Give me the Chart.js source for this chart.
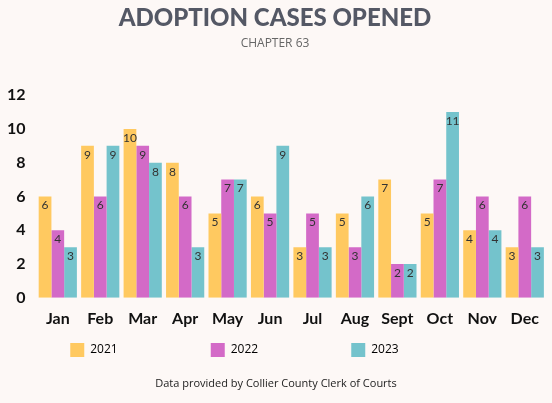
<!DOCTYPE html>
<html><head><meta charset="utf-8">
<script src="https://cdn.jsdelivr.net/npm/chart.js@4/dist/chart.umd.min.js"></script>
<style>html,body{margin:0;padding:0;background:#fdf8f6;}#w{width:552px;height:403px;}</style>
</head><body><div id="w"><canvas id="c" width="552" height="403"></canvas></div>
<script>
const categories=["Jan","Feb","Mar","Apr","May","Jun","Jul","Aug","Sept","Oct","Nov","Dec"];
const s2021=[6,9,10,8,5,6,3,5,7,5,4,3];
const s2022=[4,6,9,6,7,5,5,3,2,7,6,6];
const s2023=[3,9,8,3,7,9,3,6,2,11,4,3];
const yTicks=[0,2,4,6,8,10,12];
const valPlugin={id:'vals',beforeDraw(ch){ch.ctx.letterSpacing='0px';},afterDatasetsDraw(ch){const c=ch.ctx;c.save();c.font='12px Lato, "Open Sans", sans-serif';c.fillStyle='#333';c.textAlign='center';c.textBaseline='top';
ch.data.datasets.forEach((d,i)=>{ch.getDatasetMeta(i).data.forEach((b,j)=>{c.fillText(d.data[j],b.x,b.y+3);});});
c.font='11px "Open Sans", Lato, sans-serif';c.fillStyle='#222';c.fillText('Data provided by Collier County Clerk of Courts',276,378);c.restore();}};
new Chart(document.getElementById('c'),{type:'bar',
data:{labels:categories,datasets:[
{label:'2021',data:s2021,backgroundColor:'#ffc960'},
{label:'2022',data:s2022,backgroundColor:'#d36ac7'},
{label:'2023',data:s2023,backgroundColor:'#74c3cc'}]},
options:{responsive:false,animation:false,layout:{padding:{left:4,right:6,bottom:36}},
datasets:{bar:{categoryPercentage:0.9,barPercentage:1}},
plugins:{title:{display:true,text:'ADOPTION CASES OPENED',color:'#545865',font:{family:'Lato',size:24,weight:'900'},padding:{top:4,bottom:4}},
subtitle:{display:true,text:'CHAPTER 63',color:'#666',font:{family:'Open Sans',size:12},padding:{bottom:44}},
legend:{position:'bottom',labels:{boxWidth:14,boxHeight:14,padding:12,color:'#333',font:{family:'Open Sans',size:12},
generateLabels(ch){return ch.data.datasets.map((d,i)=>({text:d.label+'                          ',fillStyle:d.backgroundColor,strokeStyle:d.backgroundColor,lineWidth:0,datasetIndex:i}));}}},
tooltip:{enabled:false}},
scales:{x:{grid:{display:false},border:{display:false},ticks:{color:'#111',font:{family:'Lato',size:16,weight:'bold'}}},
y:{min:0,max:12,afterBuildTicks(a){a.ticks=yTicks.map(v=>({value:v}));},grid:{display:false},border:{display:false},ticks:{color:'#111',font:{family:'Lato',size:16,weight:'bold'}}}}},
plugins:[valPlugin]});
</script></body></html>
